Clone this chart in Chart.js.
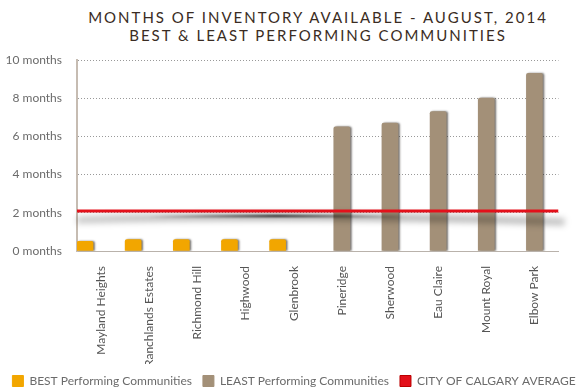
<!DOCTYPE html>
<html>
<head>
<meta charset="utf-8">
<script src="https://cdn.jsdelivr.net/npm/chart.js@4"></script>
<style>
  html, body { margin: 0; padding: 0; background: #fff; }
  #wrap { position: relative; width: 588px; height: 387px; }
  #title {
    position: absolute; left: 44px; top: 8px; width: 548px;
    text-align: center; font-family: Lato, sans-serif; font-size: 15px;
    letter-spacing: 2px; line-height: 18px; color: #3a2c23;
  }
  canvas { position: absolute; left: 0; top: 0; }
</style>
</head>
<body>
<div id="wrap">
  <div id="title">MONTHS OF INVENTORY AVAILABLE - AUGUST, 2014<br>BEST &amp; LEAST PERFORMING COMMUNITIES</div>
  <canvas id="chart" width="588" height="387"></canvas>
</div>
<script>
// 分类与数值
const communities = ['Mayland Heights', 'Ranchlands Estates', 'Richmond Hill', 'Highwood', 'Glenbrook',
                     'Pineridge', 'Sherwood', 'Eau Claire', 'Mount Royal', 'Elbow Park'];
const bestValues  = [0.5, 0.6, 0.6, 0.6, 0.6, null, null, null, null, null];
const leastValues = [null, null, null, null, null, 6.5, 6.7, 7.3, 8.0, 9.3];
const cityAverage = 2.1;

const ORANGE = '#f2a600';
const TAUPE = '#a39078';
const RED = '#e3101a';
const FONT = 'Lato, sans-serif';

// x 轴用线性刻度（类别 i 在 i 处），平均线才能横跨整个绘图区；
// 注意 v4.5 里多一条 x 轴会让柱宽减半，所以不用第二条 x 轴
const xMin = -0.5;
const xMax = communities.length - 0.5;
const toPoints = vals => vals.map((v, i) => ({ x: i, y: v }));

// 柱子阴影 + 平均线下方的"卷边"阴影
const shadowPlugin = {
    id: 'shadows',
    beforeDatasetDraw(chart, args) {
        const ctx = chart.ctx;
        const ds = chart.data.datasets[args.index];
        if (ds.type === 'line') {
            const y = chart.scales.y.getPixelForValue(cityAverage);
            const { left, right } = chart.chartArea;
            ctx.save();
            ctx.filter = 'blur(3px)';
            const g = ctx.createLinearGradient(left, 0, right, 0);
            g.addColorStop(0, 'rgba(0,0,0,0.22)');
            g.addColorStop(0.4, 'rgba(0,0,0,0.33)');
            g.addColorStop(1, 'rgba(0,0,0,0.25)');
            ctx.strokeStyle = g;
            ctx.lineWidth = 7;
            ctx.beginPath();
            ctx.moveTo(left, y + 9);
            ctx.quadraticCurveTo(left + (right - left) * 0.45, y + 2, right + 6, y + 11);
            ctx.stroke();
            ctx.filter = 'blur(0.8px)';
            const g2 = ctx.createLinearGradient(left + 70, 0, left + 330, 0);
            g2.addColorStop(0, 'rgba(0,0,0,0)');
            g2.addColorStop(0.5, 'rgba(0,0,0,0.9)');
            g2.addColorStop(1, 'rgba(0,0,0,0)');
            ctx.strokeStyle = g2;
            ctx.lineWidth = 2;
            ctx.beginPath();
            ctx.moveTo(left + 70, y + 6);
            ctx.quadraticCurveTo(left + 200, y + 4, left + 330, y + 6);
            ctx.stroke();
            ctx.restore();
        } else {
            ctx.save();
            ctx.shadowColor = 'rgba(30,25,20,0.6)';
            ctx.shadowBlur = 2;
            ctx.shadowOffsetX = 1.5;
            ctx.shadowOffsetY = 0;
        }
    },
    afterDatasetDraw(chart, args) {
        if (chart.data.datasets[args.index].type !== 'line') chart.ctx.restore();
    }
};

const barOpts = { borderRadius: 2, categoryPercentage: 1, barPercentage: 1, order: 1 };

new Chart(document.getElementById('chart'), {
    type: 'bar',
    data: {
        datasets: [
            { ...barOpts, label: 'BEST Performing Communities', data: toPoints(bestValues), backgroundColor: ORANGE },
            { ...barOpts, label: 'LEAST Performing Communities', data: toPoints(leastValues), backgroundColor: TAUPE },
            {
                type: 'line', label: 'CITY OF CALGARY AVERAGE',
                data: [{ x: xMin, y: cityAverage }, { x: xMax, y: cityAverage }],
                borderColor: RED, backgroundColor: RED, borderWidth: 3, pointRadius: 0, order: 0
            },
            // 占位：原图为三组并列，第三组为空
            { ...barOpts, label: '', data: toPoints(communities.map(() => null)), backgroundColor: 'rgba(0,0,0,0)' }
        ]
    },
    options: {
        responsive: false,
        animation: false,
        layout: { padding: { top: 60, left: 0, right: 0, bottom: -10 } },
        plugins: {
            tooltip: { enabled: false },
            legend: {
                position: 'bottom',
                labels: {
                    boxWidth: 11, boxHeight: 11, padding: 11,
                    color: '#6b6b6b', font: { family: FONT, size: 12 },
                    sort: (a, b) => a.datasetIndex - b.datasetIndex,
                    generateLabels(chart) {
                        return Chart.defaults.plugins.legend.labels.generateLabels(chart)
                            .filter(l => l.text !== '')
                            .map(l => ({ ...l, lineWidth: 1, strokeStyle: l.text.startsWith('CITY') ? '#b00' : l.fillStyle, lineDash: [] }));
                    }
                }
            }
        },
        scales: {
            x: {
                type: 'linear', min: xMin, max: xMax, offset: false,
                grid: { display: false },
                border: { display: true, color: '#b9b2ab', width: 1 },
                afterBuildTicks: s => { s.ticks = communities.map((_, i) => ({ value: i })); },
                ticks: {
                    autoSkip: false, color: '#555', font: { family: FONT, size: 12 },
                    maxRotation: 90, minRotation: 90, padding: 7,
                    callback: v => communities[v]
                },
                afterFit: s => { s.height = 113; }
            },
            y: {
                min: 0, max: 10,
                ticks: { stepSize: 2, color: '#6b6b6b', font: { family: FONT, size: 12 }, padding: 15, callback: v => v + ' months' },
                grid: { color: '#999999', lineWidth: 1, tickLength: 0 },
                border: { display: true, color: '#c6bcb2', width: 2, dash: [1, 2] },
                afterFit: s => { s.width = 77; }
            },
            // 右侧留白
            y2: {
                position: 'right', display: true,
                grid: { display: false }, border: { display: false },
                ticks: { display: false },
                afterFit: s => { s.width = 29.5; }
            }
        }
    },
    plugins: [shadowPlugin]
});
</script>
</body>
</html>
